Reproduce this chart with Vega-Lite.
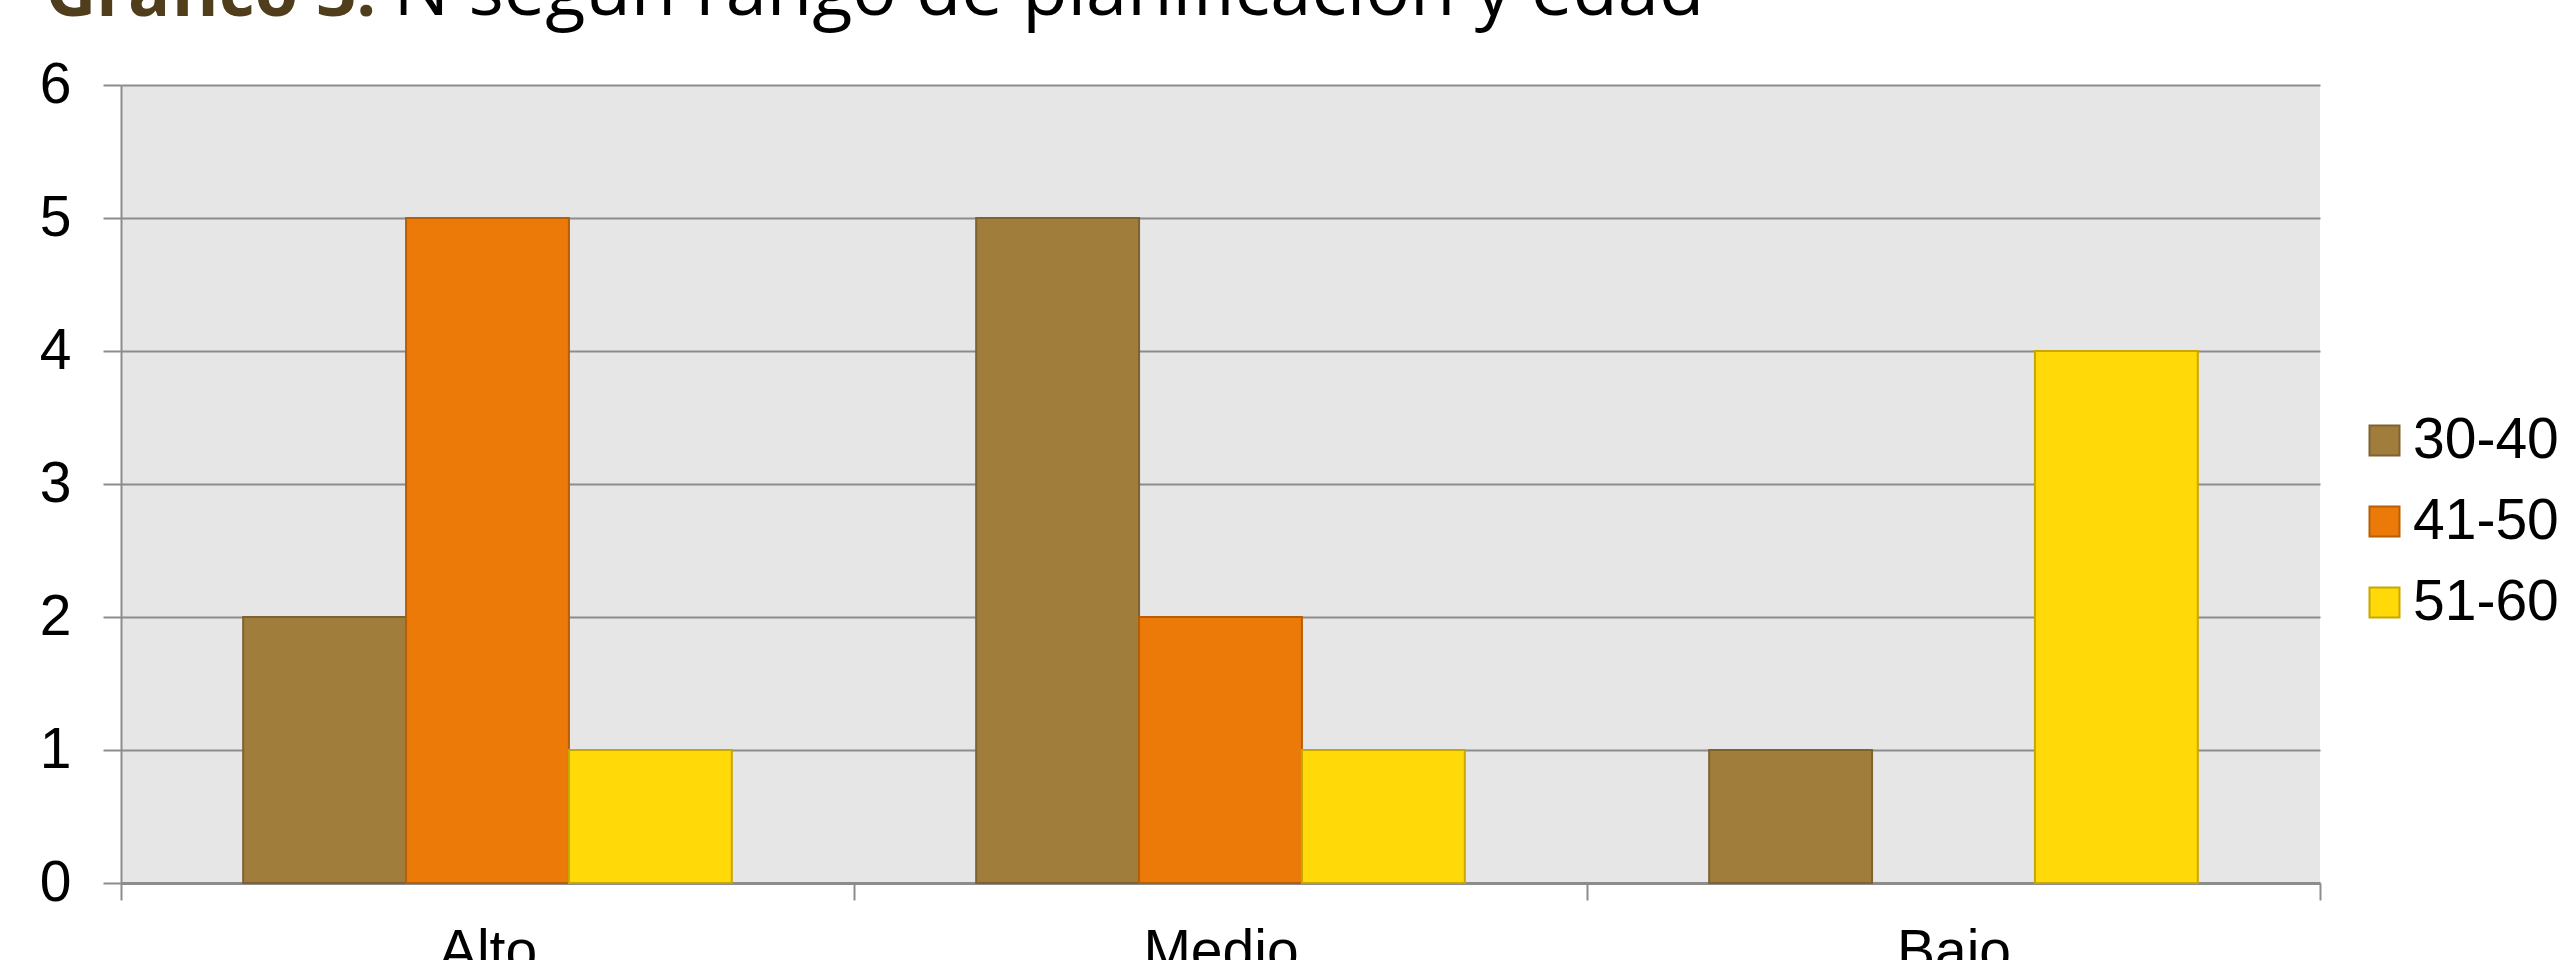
{
  "$schema": "https://vega.github.io/schema/vega-lite/v6.json",
  "autosize": {"type": "none"},
  "padding": {"left": 121, "top": 85, "right": 243, "bottom": 77},
  "width": 2199,
  "height": 798,
  "background": "white",
  "data": {
    "values": [
      {"rango": "Alto", "edad": "30-40", "n": 2},
      {"rango": "Alto", "edad": "41-50", "n": 5},
      {"rango": "Alto", "edad": "51-60", "n": 1},
      {"rango": "Medio", "edad": "30-40", "n": 5},
      {"rango": "Medio", "edad": "41-50", "n": 2},
      {"rango": "Medio", "edad": "51-60", "n": 1},
      {"rango": "Bajo", "edad": "30-40", "n": 1},
      {"rango": "Bajo", "edad": "51-60", "n": 4}
    ]
  },
  "mark": {"type": "bar", "strokeWidth": 2},
  "encoding": {
    "x": {
      "field": "rango",
      "type": "nominal",
      "sort": ["Alto", "Medio", "Bajo"],
      "scale": {"paddingInner": 0, "paddingOuter": 0},
      "axis": {
        "title": "N según rango de planificación y edad",
        "titleAngle": 0,
        "titleAlign": "left",
        "titleBaseline": "alphabetic",
        "titleX": 272,
        "titleY": -869,
        "titleFont": "Open Sans",
        "titleFontSize": 74,
        "titleFontWeight": "normal",
        "titleColor": "black",
        "labelAngle": 0,
        "tickBand": "extent",
        "tickSize": 17,
        "tickColor": "#8C8C8C",
        "tickWidth": 2,
        "domainColor": "#8C8C8C",
        "domainWidth": 3,
        "labelPadding": 24,
        "labelFont": "Liberation Sans",
        "labelFontSize": 57,
        "labelColor": "black"
      }
    },
    "xOffset": {
      "field": "edad",
      "type": "nominal",
      "sort": ["30-40", "41-50", "51-60"],
      "scale": {"domain": ["30-40", "41-50", "51-60"], "paddingInner": 0, "paddingOuter": 0.75}
    },
    "y": {
      "field": "n",
      "type": "quantitative",
      "scale": {"domain": [0, 6], "nice": false},
      "axis": {
        "title": "Gráfico 3:",
        "titleAngle": 0,
        "titleAlign": "left",
        "titleBaseline": "alphabetic",
        "titleX": -76,
        "titleY": -70,
        "titleFont": "Open Sans",
        "titleFontSize": 70,
        "titleFontWeight": "bold",
        "titleColor": "#4F3D1B",
        "values": [0, 1, 2, 3, 4, 5, 6],
        "grid": true,
        "gridColor": "#8C8C8C",
        "gridWidth": 2,
        "domainColor": "#8C8C8C",
        "domainWidth": 2,
        "tickColor": "#8C8C8C",
        "tickWidth": 2,
        "tickSize": 18,
        "labelPadding": 32,
        "labelFont": "Liberation Sans",
        "labelFontSize": 57,
        "labelColor": "black"
      }
    },
    "fill": {
      "field": "edad",
      "type": "nominal",
      "scale": {"domain": ["30-40", "41-50", "51-60"], "range": ["#A07D3A", "#EC7A08", "#FFD908"]},
      "legend": {
        "title": null,
        "orient": "none",
        "legendX": 2235,
        "legendY": 327,
        "symbolType": "square",
        "symbolSize": 900,
        "symbolStrokeWidth": 2,
        "labelFont": "Liberation Sans",
        "labelFontSize": 57,
        "labelColor": "black",
        "labelOffset": 0,
        "rowPadding": 23,
        "padding": 0,
        "labelLimit": 400
      }
    },
    "stroke": {
      "field": "edad",
      "type": "nominal",
      "scale": {"domain": ["30-40", "41-50", "51-60"], "range": ["#7E6230", "#B85E06", "#C8A800"]},
      "legend": {
        "title": null,
        "orient": "none",
        "legendX": 2235,
        "legendY": 327,
        "symbolType": "square",
        "symbolSize": 900,
        "symbolStrokeWidth": 2,
        "labelFont": "Liberation Sans",
        "labelFontSize": 57,
        "labelColor": "black",
        "labelOffset": 0,
        "rowPadding": 23,
        "padding": 0,
        "labelLimit": 400
      }
    }
  },
  "config": {
    "view": {"fill": "#E6E6E6", "stroke": null}
  }
}
